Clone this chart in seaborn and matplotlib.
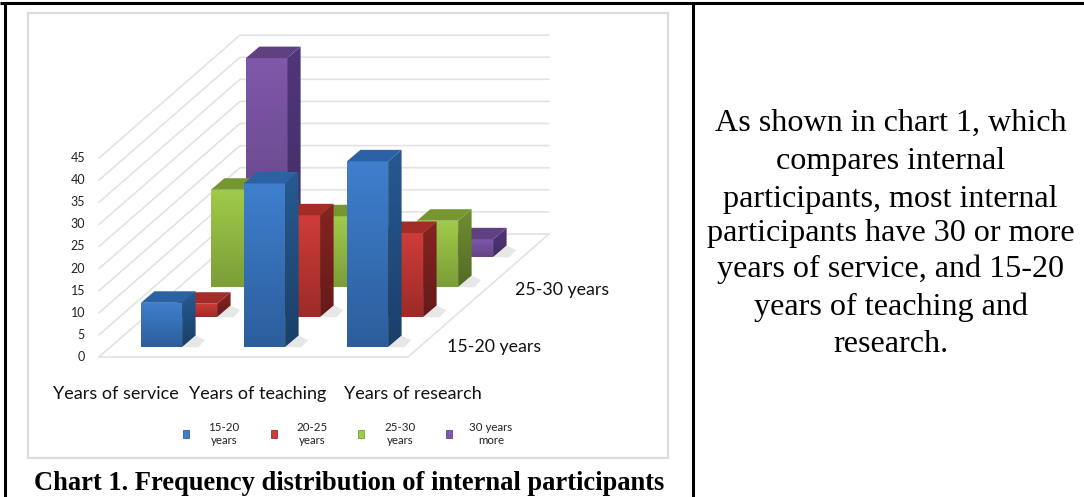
import numpy as np
import matplotlib.pyplot as plt
from matplotlib.colors import LinearSegmentedColormap
from matplotlib.patches import Polygon, Rectangle
import seaborn as sns

# values
categories = ['Years of service', 'Years of teaching', 'Years of research']
series_names = ['15-20 years', '20-25 years', '25-30 years', '30 years more']
legend_labels = ['15-20\nyears', '20-25\nyears', '25-30\nyears', '30 years\nmore']
depth_labels = ['15-20 years', '25-30 years']
service = [10, 3, 22, 45]
teaching = [37, 23, 16, 2]
research = [42, 19, 15, 4]
y_ticks = [0, 5, 10, 15, 20, 25, 30, 35, 40, 45]

front_colors = [('#3f7fcd', '#2c5e9c'), ('#cf3c38', '#9c2b29'), ('#a0cb4a', '#7c9d37'), ('#7f58a9', '#624484')]
side_colors = [('#265a92', '#1b3f68'), ('#852421', '#651b19'), ('#6f8f31', '#536b26'), ('#50367a', '#432d63')]
top_colors = ['#2b62a3', '#a32c29', '#76962f', '#5f4080']

text_lines = ['As shown in chart 1, which', 'compares internal', 'participants, most internal',
              'participants have 30 or more', 'years of service, and 15-20', 'years of teaching and', 'research.']
text_y = [123, 161, 199, 234, 269, 307, 345]

W, H = 1084, 497
PX_X = 103      # pixels per category
PX_Y = 4.42     # pixels per unit
DEPTH_X, DEPTH_Y = 141, 123
FLOOR_L, FLOOR_R, FLOOR_Y = 99, 408, 357

sns.set_theme(style='white')
plt.rcParams['font.family'] = ['Lato', 'DejaVu Sans']
fig = plt.figure(figsize=(W / 100, H / 100), dpi=100, facecolor='white')

# page layer in pixel coordinates
bg = fig.add_axes([0, 0, 1, 1], zorder=0)
bg.set_xlim(0, W)
bg.set_ylim(H, 0)
bg.axis('off')

bg.add_patch(Rectangle((28, 13), 640, 445, fc='white', ec='#dcdcdc', lw=1.6))

grid_c = '#e3e3e3'
for t in y_ticks:
    off = t * PX_Y
    bg.plot([FLOOR_L, FLOOR_L + DEPTH_X, FLOOR_R + DEPTH_X],
            [FLOOR_Y - off, FLOOR_Y - DEPTH_Y - off, FLOOR_Y - DEPTH_Y - off], color=grid_c, lw=1.2)
    bg.text(85, FLOOR_Y - off, str(t), ha='right', va='center', fontsize=9, color='#222222')
bg.plot([FLOOR_L, FLOOR_R, FLOOR_R + DEPTH_X], [FLOOR_Y, FLOOR_Y, FLOOR_Y - DEPTH_Y], color=grid_c, lw=1.2)

for name, cx in zip(categories, [116, 258, 413]):
    bg.text(cx, 394, name, ha='center', va='center', fontsize=13, color='#111111')
for name, lx, ly in zip(depth_labels, [447, 515], [347, 290]):
    bg.text(lx, ly, name, ha='left', va='center', fontsize=12.8, color='#111111')

# legend
for lab, c, sx, tx in zip(legend_labels, front_colors, [186, 274, 361, 449], [224, 312, 400, 491]):
    bg.add_patch(Rectangle((sx - 3, 430), 6, 8, fc=c[0], ec=c[1], lw=0.6))
    bg.text(tx, 434, lab, ha='center', va='center', fontsize=8.3, color='#222222', linespacing=1.2)

# outer table lines
for xs, ys in [([0, W], [3, 3]), ([5, 5], [3, H]), ([693, 693], [3, H])]:
    bg.plot(xs, ys, color='black', lw=2.2, solid_capstyle='butt')

bg.text(349.5, 484, 'Chart 1. Frequency distribution of internal participants', ha='center', va='center',
        fontsize=19.1, fontweight='bold', family='Liberation Serif', color='black')
for line, y in zip(text_lines, text_y):
    bg.text(890.5, y, line, ha='center', va='center', fontsize=23.1, family='Liberation Serif', color='black')


def grad_fill(ax, verts, c_top, c_bot, zorder):
    clip = Polygon(verts, closed=True, fc='none', ec='none', zorder=zorder)
    ax.add_patch(clip)
    xs, ys = zip(*verts)
    cmap = LinearSegmentedColormap.from_list('g', [c_bot, c_top])
    im = ax.imshow(np.linspace(0, 1, 64)[:, None], origin='lower', aspect='auto', cmap=cmap, zorder=zorder,
                   extent=(min(xs), max(xs), min(ys), max(ys)))
    im.set_clip_path(clip)


# one seaborn barplot per depth row, drawn back to front
rows = list(zip(service, teaching, research))
dx = 13.5 / PX_X
dy = 11.5 / PX_Y
XMAX, YMAX = 2.7, 50
for i in [3, 2, 1, 0]:
    left = 110 + 35 * i
    base = 347 - 30 * i
    ax = fig.add_axes([left / W, (H - base) / H, (XMAX + 0.5) * PX_X / W, YMAX * PX_Y / H], zorder=5 - i)
    ax.patch.set_alpha(0)
    sns.barplot(x=categories, y=list(rows[i]), color=front_colors[i][0], width=0.4, saturation=1, ax=ax)
    for bar in ax.containers[0]:
        x0, x1 = bar.get_x(), bar.get_x() + bar.get_width()
        h = bar.get_height()
        bar.set_edgecolor('none')
        ax.add_patch(Polygon([(x1, 0), (x1 + dx * 1.2, -0.1), (x1 + dx * 1.7, dy * 0.6), (x1 + dx, dy)],
                             closed=True, fc='#c4c4c4', ec='none', alpha=0.4, zorder=1.5, clip_on=False))
        grad_fill(ax, [(x0, 0), (x1, 0), (x1, h), (x0, h)], *front_colors[i], 3)
        grad_fill(ax, [(x1, 0), (x1 + dx, dy), (x1 + dx, h + dy), (x1, h)], *side_colors[i], 3)
        ax.add_patch(Polygon([(x0, h), (x1, h), (x1 + dx, h + dy), (x0 + dx, h + dy)],
                             closed=True, fc=top_colors[i], ec='none', zorder=3, clip_on=False))
    ax.set_xlim(-0.5, XMAX)
    ax.set_ylim(0, YMAX)
    ax.axis('off')

fig.savefig('out.png', dpi=100)
